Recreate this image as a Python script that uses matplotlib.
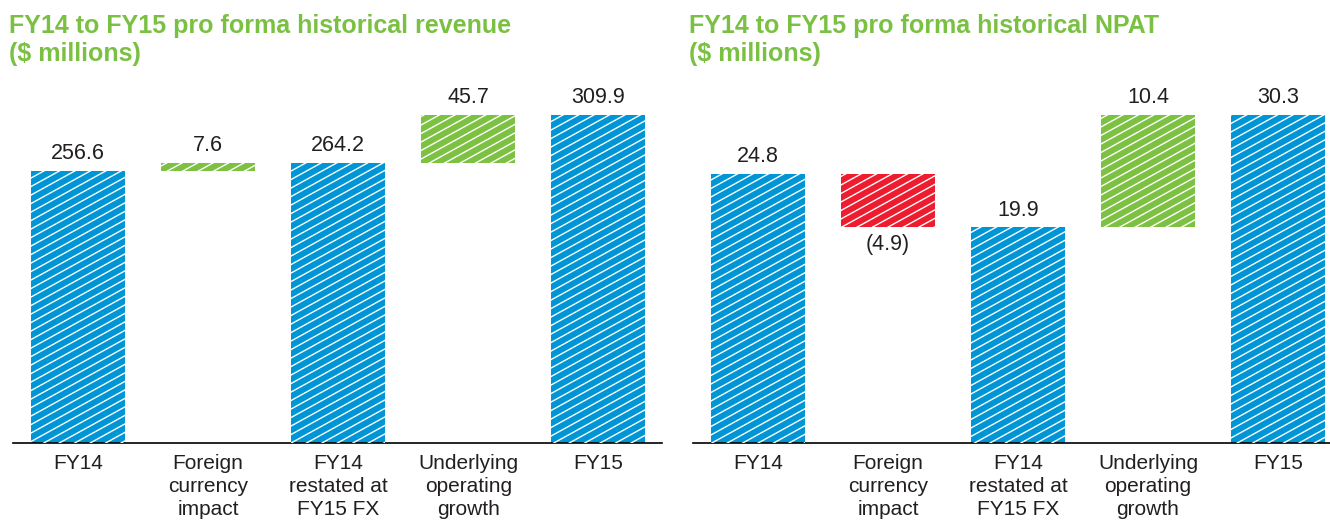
import numpy as np
import matplotlib
matplotlib.use('Agg')
import matplotlib.pyplot as plt
from matplotlib.collections import LineCollection

plt.rcParams['font.family'] = ['Liberation Sans', 'DejaVu Sans']

categories = ['FY14', 'Foreign\ncurrency\nimpact', 'FY14\nrestated at\nFY15 FX',
              'Underlying\noperating\ngrowth', 'FY15']

# waterfall steps: (kind, value)
revenue_steps = [('total', 256.6), ('delta', 7.6), ('total', 264.2),
                 ('delta', 45.7), ('total', 309.9)]
npat_steps = [('total', 24.8), ('delta', -4.9), ('total', 19.9),
              ('delta', 10.4), ('total', 30.3)]

BLUE = '#0096d6'
GREEN = '#7dc142'
RED = '#ed1c2e'
TITLE_GREEN = '#7ac143'
TEXT = '#231f20'


def stripe(ax, bar, slope=0.55, gap=8.5):
    # thin white diagonal stripes clipped to one bar
    bb = ax.get_window_extent()
    w, h = bb.width, bb.height
    start = -slope * w / h
    offsets = np.arange(start, 1.0 + gap / h, gap / h)
    segs = [[(0, y0), (1, y0 + slope * w / h)] for y0 in offsets]
    lc = LineCollection(segs, colors='white', linewidths=1.0,
                        transform=ax.transAxes, zorder=3)
    ax.add_collection(lc)
    lc.set_clip_path(bar)


def waterfall(ax, steps, ymax, xmax):
    x = np.arange(len(steps))
    running = 0.0
    for i, (kind, val) in enumerate(steps):
        if kind == 'total':
            bottom, height, color = 0, val, BLUE
            running = val
        else:
            if val >= 0:
                bottom, height, color = running, val, GREEN
            else:
                bottom, height, color = running + val, -val, RED
            running += val
        bar = ax.bar(x[i], height, bottom=bottom, width=0.725,
                     color=color, linewidth=0, zorder=2)[0]
        stripe(ax, bar)
        if val >= 0:
            ax.annotate(f'{val:.1f}', (x[i], bottom + height),
                        xytext=(0, 5), textcoords='offset points',
                        ha='center', va='bottom', fontsize=15.5, color=TEXT)
        else:
            ax.annotate(f'({abs(val):.1f})', (x[i], bottom),
                        xytext=(0, -5), textcoords='offset points',
                        ha='center', va='top', fontsize=15.5, color=TEXT)
    ax.set_xlim(-0.5, xmax)
    ax.set_ylim(0, ymax)
    for s in ['top', 'right', 'left']:
        ax.spines[s].set_visible(False)
    ax.spines['bottom'].set_linewidth(1.2)
    ax.set_yticks([])
    ax.set_xticks(x)
    ax.set_xticklabels(categories, fontsize=15, color=TEXT,
                       linespacing=1.25, va='top')
    ax.tick_params(axis='x', length=0, pad=8)


fig = plt.figure(figsize=(13.3, 5.2), dpi=100)
W, H = 1330, 520
base = (H - 443) / H
top = (H - 80) / H
ax1 = fig.add_axes([13 / W, base, (662 - 13) / W, top - base])
ax2 = fig.add_axes([693 / W, base, (1330 - 693) / W, top - base])

waterfall(ax1, revenue_steps, 363 / 1.0584, 4.49)
waterfall(ax2, npat_steps, 363 / 10.83, 4.40)

title_kw = dict(fontsize=18, fontweight='bold', color=TITLE_GREEN,
                ha='left', va='top', linespacing=1.22)
fig.text(9 / W, 1 - 14 / H, 'FY14 to FY15 pro forma historical revenue\n($ millions)',
         **title_kw)
fig.text(689 / W, 1 - 14 / H, 'FY14 to FY15 pro forma historical NPAT\n($ millions)',
         **title_kw)

fig.savefig('out.png', dpi=100)
